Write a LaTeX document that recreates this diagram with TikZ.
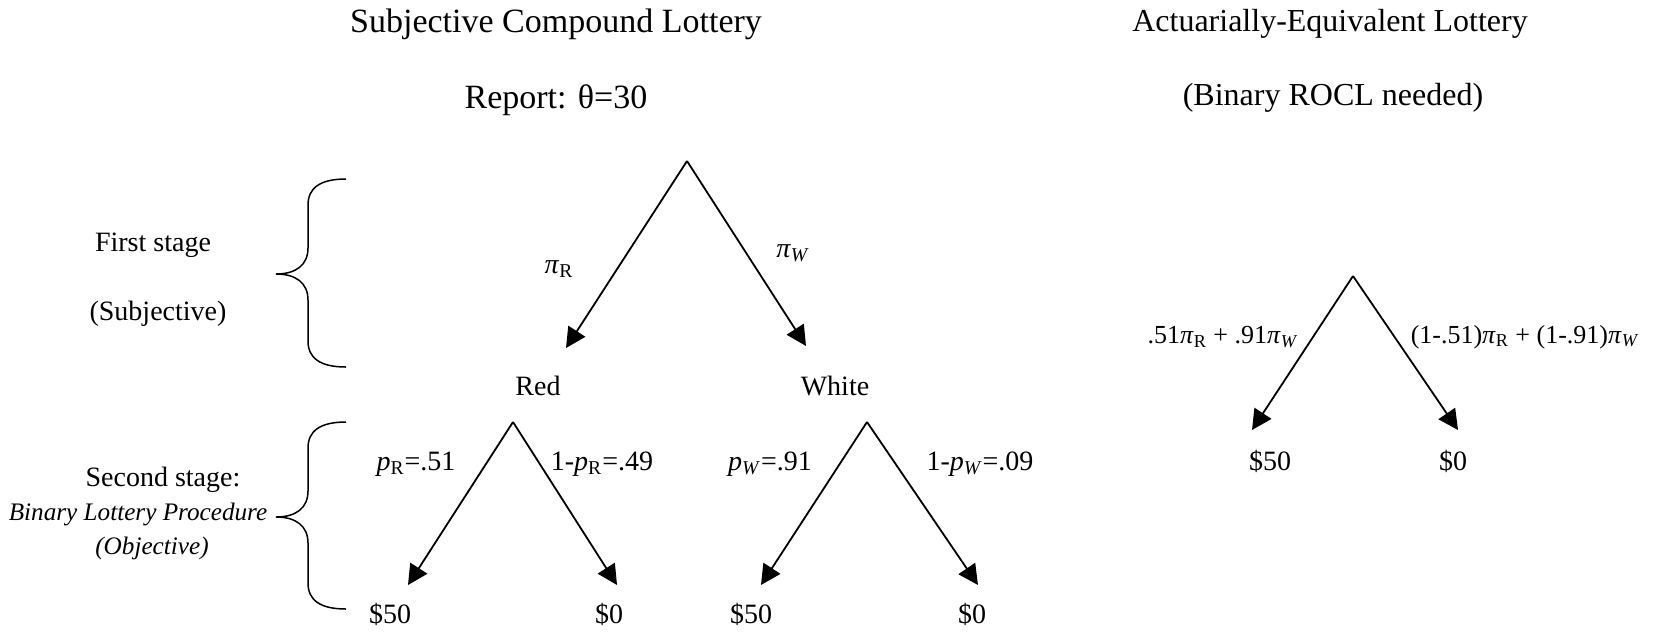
\documentclass[tikz,border=0pt]{standalone}
\usepackage{fontspec}
\setmainfont{Liberation Serif}
\usetikzlibrary{arrows.meta}
\newcommand\piR{\textit{π}\textsubscript{R}}
\newcommand\piW{\textit{π}\textsubscript{\textit{W}}}
\newcommand\pR{\textit{p}\textsubscript{R}}
\newcommand\pW{\textit{p}\textsubscript{\textit{W}}}
\begin{document}
\begin{tikzpicture}[x=0.5pt,y=-0.5pt,
  lbl/.style={font=\fontsize{14}{16}\selectfont, inner sep=0pt},
  slbl/.style={font=\fontsize{13}{15}\selectfont, inner sep=0pt},
  ilbl/.style={font=\fontsize{12.6}{15}\selectfont\itshape, inner sep=0pt},
  ttl/.style={font=\fontsize{17}{20}\selectfont, inner sep=0pt},
  rttl/.style={font=\fontsize{16}{19}\selectfont, inner sep=0pt},
  arr/.style={line width=0.9pt, -{Triangle[length=10pt,width=10pt]}},
  brc/.style={line width=0.75pt}]
\useasboundingbox (0,0) rectangle (1653,634);
% titles
\node[ttl] (t1) at (556,24) {Subjective Compound Lottery};
\node[ttl] (t2) at (556,100) {Report: θ=30};
\node[rttl] (t3) at (1330,24) {Actuarially-Equivalent Lottery};
\node[rttl] (t4) at (1333,98) {(Binary ROCL needed)};
% left texts
\node[lbl] (fs) at (153,245) {First stage};
\node[lbl] (subj) at (158,314) {(Subjective)};
\node[lbl] (ss) at (163,480) {Second stage:};
\node[ilbl] (blp) at (138,514) {Binary Lottery Procedure};
\node[ilbl] (obj) at (152,548) {(Objective)};
% braces
\draw[brc] (346,179) .. controls (320,179) and (308,188) .. (308,205) -- (308,248)
  .. controls (308,265) and (296,274) .. (276,274)
  .. controls (296,274) and (308,283) .. (308,300) -- (308,341)
  .. controls (308,358) and (320,367) .. (346,367);
\draw[brc] (346,422) .. controls (320,422) and (308,431) .. (308,448) -- (308,491)
  .. controls (308,508) and (296,517) .. (276,517)
  .. controls (296,517) and (308,526) .. (308,543) -- (308,583)
  .. controls (308,600) and (320,609) .. (346,609);
% first-stage tree
\coordinate (a0) at (687,161);
\coordinate (a0l) at (566,348);
\coordinate (a0r) at (806,346);
\draw[arr] (a0) -- (a0l);
\draw[arr] (a0) -- (a0r);
\node[lbl] (lpiR) at (559,269) {\piR};
\node[lbl] (lpiW) at (793,253) {\piW};
\node[lbl] (red) at (538,386) {Red};
\node[lbl] (white) at (835,386) {White};
% red subtree
\coordinate (ar) at (513,422);
\coordinate (arl) at (408,585);
\coordinate (arr) at (617,585);
\draw[arr] (ar) -- (arl);
\draw[arr] (ar) -- (arr);
\node[lbl] (lpr) at (416,464) {\pR=.51};
\node[lbl] (lpr2) at (602,464) {1-\pR=.49};
\node[lbl] (r50) at (390,614) {\$50};
\node[lbl] (r0) at (609,614) {\$0};
% white subtree
\coordinate (aw) at (867,422);
\coordinate (awl) at (761,585);
\coordinate (awr) at (978,585);
\draw[arr] (aw) -- (awl);
\draw[arr] (aw) -- (awr);
\node[lbl] (lpw) at (770,464) {\pW=.91};
\node[lbl] (lpw2) at (980,464) {1-\pW=.09};
\node[lbl] (w50) at (751,614) {\$50};
\node[lbl] (w0) at (972,614) {\$0};
% actuarially-equivalent tree
\coordinate (ae) at (1353,276);
\coordinate (ael) at (1252,430);
\coordinate (aer) at (1458,430);
\draw[arr] (ae) -- (ael);
\draw[arr] (ae) -- (aer);
\node[slbl] (le1) at (1223,337) {.51\piR\ + .91\piW};
\node[slbl] (le2) at (1525,337) {(1-.51)\piR\ + (1-.91)\piW};
\node[lbl] (e50) at (1270,461) {\$50};
\node[lbl] (e0) at (1453,461) {\$0};
\end{tikzpicture}
\end{document}
